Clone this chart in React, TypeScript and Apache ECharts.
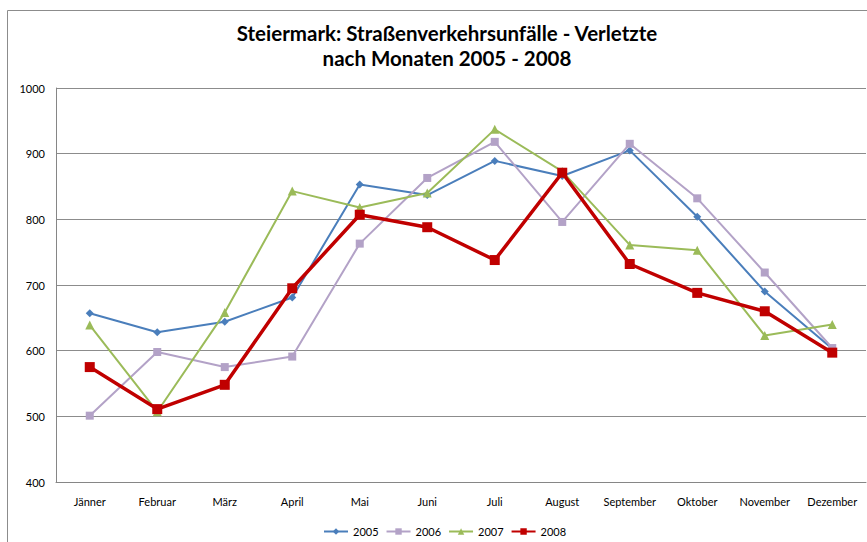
import React, { useEffect, useRef } from "react";
import * as echarts from "echarts";

const categories = ["Jänner", "Februar", "März", "April", "Mai", "Juni", "Juli", "August", "September", "Oktober", "November", "Dezember"];
const yTicks = { min: 400, max: 1000, interval: 100 };
const s2005 = [657, 628, 644, 681, 853, 837, 889, 866, 905, 804, 690, 603];
const s2006 = [501, 598, 575, 591, 763, 863, 918, 796, 915, 832, 719, 604];
const s2007 = [639, 507, 658, 843, 818, 840, 937, 873, 761, 753, 623, 640];
const s2008 = [575, 511, 548, 695, 807, 788, 738, 871, 732, 688, 660, 597];
const titleLines = ["Steiermark: Straßenverkehrsunfälle - Verletzte", "nach Monaten 2005 - 2008"];

export default function App() {
  const ref = useRef<HTMLDivElement>(null);
  useEffect(() => {
    if (!ref.current) return;
    const chart = echarts.init(ref.current, null, { renderer: "svg" });
    const font = "Lato, 'Open Sans', sans-serif";
    const mk = (name: string, data: number[], color: string, symbol: string, size: number, width: number) => ({
      name,
      type: "line",
      data,
      symbol,
      symbolSize: size,
      showSymbol: true,
      lineStyle: { color, width },
      itemStyle: { color },
      z: name === "2008" ? 5 : 3,
    });
    chart.setOption({
      animation: false,
      backgroundColor: "#ffffff",
      textStyle: { fontFamily: font },
      title: {
        text: titleLines.join("\n"),
        left: 442,
        top: 15,
        textAlign: "center",
        textStyle: { fontFamily: font, fontWeight: "bold", fontSize: 20.5, lineHeight: 25, color: "#000" },
      },
      graphic: [
        {
          type: "rect",
          shape: { x: 7.5, y: 10.5, width: 1000, height: 1000 },
          style: { fill: "none", stroke: "#8c8c8c", lineWidth: 1 },
          silent: true,
          z: -1,
        },
      ],
      legend: {
        top: 521,
        left: 318,
        itemWidth: 24,
        itemHeight: 8,
        itemGap: 7,
        textStyle: { fontFamily: font, fontSize: 11, color: "#000" },
        data: ["2005", "2006", "2007", "2008"],
      },
      grid: { left: 56, top: 88, right: 1, bottom: 60 },
      xAxis: {
        type: "category",
        data: categories,
        boundaryGap: true,
        axisLine: { lineStyle: { color: "#868686" } },
        axisTick: { show: false },
        axisLabel: { fontFamily: font, fontSize: 11, color: "#000", margin: 14, interval: 0 },
      },
      yAxis: {
        type: "value",
        min: yTicks.min,
        max: yTicks.max,
        interval: yTicks.interval,
        axisLine: { show: true, lineStyle: { color: "#868686" } },
        axisTick: { show: false },
        axisLabel: { fontFamily: font, fontSize: 11, color: "#000", margin: 11, formatter: (v: number) => String(v) },
        splitLine: { lineStyle: { color: "#8c8c8c", width: 1 } },
      },
      series: [
        mk("2005", s2005, "#4a7ebb", "diamond", 8, 2),
        mk("2006", s2006, "#b3a2c7", "rect", 8, 2),
        mk("2007", s2007, "#9bbb59", "triangle", 9, 2),
        mk("2008", s2008, "#c00000", "rect", 10, 3.5),
      ],
    });
    return () => chart.dispose();
  }, []);
  return <div ref={ref} style={{ position: "fixed", left: 0, top: 0, width: 867, height: 542 }} />;
}
